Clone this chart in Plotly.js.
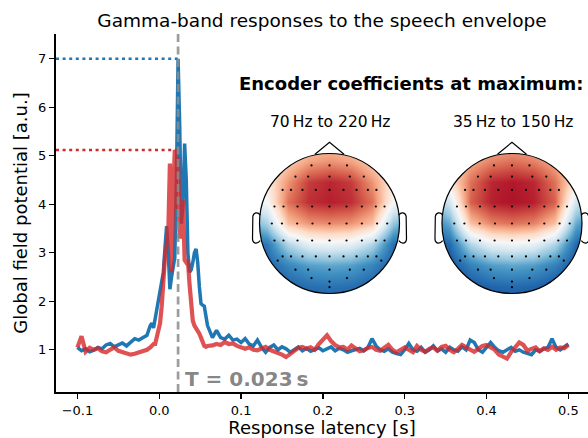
<!DOCTYPE html>
<html>
<head>
<meta charset="utf-8">
<script src="https://cdn.plot.ly/plotly-3.0.1.min.js"></script>
<style>html,body{margin:0;padding:0;background:#fff;}</style>
</head>
<body>
<div id="chart" style="width:588px;height:438px;"></div>
<script>
// ---------- data ----------
const latency = [
 -0.1,-0.095,-0.09,-0.085,-0.08,-0.075,-0.07,-0.065,-0.06,-0.055,-0.05,-0.045,-0.04,-0.035,-0.03,-0.025,-0.02,-0.015,
 -0.011,-0.009,-0.007,-0.005,-0.003,-0.001,0.001,0.003,0.005,0.007,0.009,0.011,0.013,0.015,0.017,0.019,0.021,0.023,
 0.025,0.027,0.029,0.031,0.033,0.035,0.037,0.039,0.041,0.043,0.045,0.047,0.049,0.051,0.053,0.055,0.057,0.059,
 0.065,0.07,0.075,0.08,0.085,0.09,0.095,0.1,0.105,0.11,0.115,0.12,0.125,0.13,0.135,0.14,0.145,0.15,0.155,0.16,
 0.165,0.17,0.175,0.18,0.185,0.19,0.195,0.2,0.205,0.21,0.215,0.22,0.225,0.23,0.235,0.24,0.245,0.25,0.255,0.26,
 0.265,0.27,0.275,0.28,0.285,0.29,0.295,0.3,0.305,0.31,0.315,0.32,0.325,0.33,0.335,0.34,0.345,0.35,0.355,0.36,
 0.365,0.37,0.375,0.38,0.385,0.39,0.395,0.4,0.405,0.41,0.415,0.42,0.425,0.43,0.435,0.44,0.445,0.45,0.455,0.46,
 0.465,0.47,0.475,0.48,0.485,0.49,0.495,0.5
];
const gfpHigh = [ // 70 Hz to 220 Hz (blue)
 1.05,0.98,1.02,0.96,0.99,1.05,1.02,1.1,1.13,1.06,1.1,1.14,1.08,1.15,1.23,1.2,1.26,1.3,
 1.5,1.55,1.45,1.65,1.88,2.0,2.2,2.4,2.6,3.1,3.55,3.0,2.25,2.5,2.7,2.9,4.5,7.0,
 5.6,3.6,4.0,5.25,4.5,3.0,2.6,2.65,2.8,3.0,3.08,2.8,2.3,1.95,1.92,1.9,1.7,1.5,
 1.25,1.4,1.25,1.22,1.3,1.2,1.22,1.15,1.23,1.12,1.08,1.2,1.05,0.95,1.05,1.1,1.0,1.06,1.02,0.95,
 1.0,1.06,0.98,1.03,0.97,1.0,1.04,0.98,1.02,1.06,0.98,1.03,1.0,0.95,0.98,1.0,1.03,0.98,1.05,1.23,
 1.08,1.0,0.97,1.02,0.95,0.92,0.9,1.0,1.13,1.0,0.97,1.05,0.95,1.0,1.08,0.98,1.02,0.95,1.05,1.0,
 0.97,1.06,1.0,1.2,1.15,1.0,0.95,1.05,1.15,1.05,0.98,0.95,1.0,1.05,0.97,1.0,0.95,0.92,0.9,1.0,
 0.97,1.02,1.05,1.23,1.05,1.0,1.05,1.12
];
const gfpLow = [ // 35 Hz to 150 Hz (red)
 1.05,1.28,0.96,1.04,1.0,1.03,0.97,0.95,1.0,1.05,0.98,0.95,0.93,0.9,0.92,0.95,0.98,1.0,
 1.05,1.08,1.12,1.12,1.25,1.4,1.55,1.9,2.55,2.9,3.15,3.4,4.84,2.6,4.2,5.12,3.9,4.97,
 3.3,3.4,4.08,2.85,2.8,2.85,2.35,2.0,1.6,1.5,1.45,1.4,1.33,1.25,1.15,1.08,1.06,1.08,
 1.09,1.12,1.1,1.16,1.12,1.13,1.08,1.05,1.02,1.05,1.0,0.99,1.03,1.06,1.0,0.97,0.93,0.9,0.85,0.92,
 0.99,1.04,1.06,1.02,1.05,1.0,1.12,1.2,1.3,1.18,1.1,1.05,1.06,1.0,1.09,1.03,0.97,0.99,1.04,1.06,
 1.0,0.98,1.05,1.1,1.0,0.95,1.0,1.05,1.0,0.95,1.08,1.0,0.96,1.02,1.05,0.98,1.06,1.08,1.0,0.95,
 1.02,1.1,1.05,1.0,0.96,1.02,1.08,1.1,1.05,1.0,0.9,0.85,0.82,0.95,1.05,1.15,1.1,0.98,1.02,1.05,
 0.97,1.03,1.0,1.06,1.0,1.05,1.03,1.1
];
const peakLatency = 0.023;
const xTickVals = [-0.1,0,0.1,0.2,0.3,0.4,0.5];
const xTickText = ['\u22120.1','0.0','0.1','0.2','0.3','0.4','0.5'];
const yTickVals = [1,2,3,4,5,6,7];

// topomap grids (normalised head coordinates, head radius = 1)
const topoX = [-1.2,-0.9,-0.6,-0.3,0,0.3,0.6,0.9,1.2];
const topoY = [-1.2,-0.9,-0.6,-0.3,0,0.3,0.6,0.9,1.2];
const topoHigh = [
 [-0.9,-0.9,-0.88,-0.85,-0.85,-0.85,-0.88,-0.9,-0.9],
 [-0.9,-0.88,-0.82,-0.76,-0.74,-0.76,-0.82,-0.88,-0.9],
 [-0.88,-0.82,-0.66,-0.55,-0.52,-0.55,-0.66,-0.85,-0.88],
 [-0.85,-0.72,-0.3,-0.1,-0.06,-0.1,-0.3,-0.76,-0.88],
 [-0.55,-0.32,0.3,0.45,0.48,0.45,0.3,-0.38,-0.65],
 [-0.1,0.0,0.55,0.74,0.78,0.74,0.55,0.0,-0.2],
 [0.0,0.1,0.45,0.7,0.76,0.7,0.45,0.1,0.0],
 [0.05,0.1,0.25,0.4,0.45,0.4,0.25,0.1,0.05],
 [0.05,0.1,0.15,0.22,0.25,0.22,0.15,0.1,0.05]
];
const topoLow = [
 [-0.95,-0.95,-0.92,-0.9,-0.9,-0.9,-0.92,-0.95,-0.95],
 [-0.95,-0.92,-0.86,-0.8,-0.78,-0.8,-0.86,-0.92,-0.95],
 [-0.92,-0.88,-0.68,-0.56,-0.52,-0.56,-0.68,-0.88,-0.92],
 [-0.9,-0.78,-0.3,-0.08,-0.04,-0.08,-0.3,-0.78,-0.9],
 [-0.75,-0.5,0.3,0.5,0.55,0.5,0.3,-0.5,-0.75],
 [-0.45,-0.18,0.6,0.78,0.82,0.78,0.6,-0.18,-0.45],
 [-0.1,0.12,0.55,0.76,0.8,0.76,0.55,0.12,-0.1],
 [0.1,0.2,0.38,0.5,0.55,0.5,0.38,0.2,0.1],
 [0.1,0.18,0.25,0.3,0.32,0.3,0.25,0.18,0.1]
];
const elecX = [-0.257,0,0.25, -0.486,-0.305,0,0.29,0.49,
 -0.67,-0.55,-0.386,-0.195,0,0.2,0.386,0.548,0.67,
 -0.786,-0.657,-0.457,-0.248,0,0.243,0.462,0.662,0.786,
 -0.824,-0.68,-0.462,-0.243,0,0.243,0.462,0.68,0.824,
 -0.786,-0.657,-0.457,-0.248,0,0.243,0.462,0.662,0.786,
 -0.67,-0.55,-0.386,-0.195,0,0.2,0.386,0.548,0.67,-0.74,0.74,
 -0.486,-0.305,0,0.29,0.49, -0.257,0.25,0,0];
const elecY = [0.83,0.83,0.83, 0.67,0.67,0.67,0.67,0.67,
 0.48,0.48,0.48,0.48,0.48,0.48,0.48,0.48,0.48,
 0.243,0.243,0.243,0.243,0.243,0.243,0.243,0.243,0.243,
 0,0,0,0,0,0,0,0,0,
 -0.243,-0.243,-0.243,-0.243,-0.243,-0.243,-0.243,-0.243,-0.243,
 -0.47,-0.47,-0.47,-0.47,-0.47,-0.47,-0.47,-0.47,-0.47,-0.53,-0.53,
 -0.66,-0.66,-0.66,-0.66,-0.66, -0.78,-0.78,-0.83,-0.91];

// ---------- styling ----------
const FONT = 'DejaVu Sans, sans-serif';
const BLUE = '#1f77b4', RED = 'rgba(214,39,40,0.8)';
const xRange = [-0.1262, 0.524];
const yRange = [0.13, 7.51];
const rdbu = [[0,'#053061'],[0.1,'#2166ac'],[0.2,'#4393c3'],[0.3,'#92c5de'],[0.4,'#d1e5f0'],
  [0.5,'#f7f7f7'],[0.6,'#fddbc7'],[0.7,'#f4a582'],[0.8,'#d6604d'],[0.9,'#b2182b'],[1,'#67001f']];

const peakHigh = Math.max(...gfpHigh);
const peakLow = Math.max(...gfpLow);

const traces = [
  {x: latency, y: gfpHigh, type:'scatter', mode:'lines', line:{color:BLUE, width:3.5}, hoverinfo:'skip'},
  {x: latency, y: gfpLow, type:'scatter', mode:'lines', line:{color:RED, width:4.2}, hoverinfo:'skip'},
  {x: topoX, y: topoY, z: topoHigh, type:'heatmap', xaxis:'x2', yaxis:'y2', colorscale:rdbu,
   zmin:-1, zmax:1, zsmooth:'best', showscale:false, hoverinfo:'skip'},
  {x: topoX, y: topoY, z: topoLow, type:'heatmap', xaxis:'x3', yaxis:'y3', colorscale:rdbu,
   zmin:-1, zmax:1, zsmooth:'best', showscale:false, hoverinfo:'skip'},
  {x: elecX, y: elecY, xaxis:'x2', yaxis:'y2', type:'scatter', mode:'markers',
   marker:{color:'#000', size:2.2}, hoverinfo:'skip'},
  {x: elecX, y: elecY, xaxis:'x3', yaxis:'y3', type:'scatter', mode:'markers',
   marker:{color:'#000', size:2.2}, hoverinfo:'skip'}
];

const k = 0.5523;
const circ = `M 1 0 C 1 ${k}, ${k} 1, 0 1 C ${-k} 1, -1 ${k}, -1 0 C -1 ${-k}, ${-k} -1, 0 -1 C ${k} -1, 1 ${-k}, 1 0 Z`;
const mask = `M -1.39 -1.39 L 1.39 -1.39 L 1.39 1.39 L -1.39 1.39 Z ` + circ;
const nose = 'M -0.207 0.99 L 0 1.16 L 0.207 0.99';
const earL = 'M -0.99 0.12 C -1.02 0.165, -1.085 0.165, -1.095 0.1 L -1.1 -0.22 C -1.095 -0.295, -1.03 -0.295, -0.99 -0.245';
const earR = 'M 0.99 0.12 C 1.02 0.165, 1.085 0.165, 1.095 0.1 L 1.1 -0.22 C 1.095 -0.295, 1.03 -0.295, 0.99 -0.245';

function headShapes(xr, yr) {
  return [
    {type:'path', xref:xr, yref:yr, path:mask, fillcolor:'#fff', fillrule:'evenodd', line:{width:0}, layer:'above'},
    {type:'path', xref:xr, yref:yr, path:circ, line:{color:'#000', width:1.2}, layer:'above'},
    {type:'path', xref:xr, yref:yr, path:nose, line:{color:'#000', width:1.2}, layer:'above'},
    {type:'path', xref:xr, yref:yr, path:earL, line:{color:'#000', width:1.2}, layer:'above'},
    {type:'path', xref:xr, yref:yr, path:earR, line:{color:'#000', width:1.2}, layer:'above'}
  ];
}

const shapes = [
  {type:'line', xref:'x', yref:'y', x0:xRange[0], x1:peakLatency, y0:peakHigh, y1:peakHigh,
   line:{color:BLUE, width:2.6, dash:'3px,3.6px'}, layer:'above'},
  {type:'line', xref:'x', yref:'y', x0:xRange[0], x1:peakLatency, y0:peakLow, y1:peakLow,
   line:{color:'#d62728', width:2.6, dash:'3px,3.6px'}, layer:'above'},
  {type:'line', xref:'x', yref:'paper', x0:peakLatency, x1:peakLatency, y0:0, y1:1,
   line:{color:'rgba(140,140,140,0.85)', width:2.7, dash:'8px,4.5px'}, layer:'above'}
].concat(headShapes('x2','y2'), headShapes('x3','y3'));

const layout = {
  width:588, height:438,
  margin:{l:56, r:0, t:34, b:46},
  paper_bgcolor:'#fff', plot_bgcolor:'rgba(0,0,0,0)',
  showlegend:false,
  font:{family:FONT, color:'#000', size:13},
  title:{text:'Gamma-band responses to the speech envelope', font:{family:FONT, size:18.5, color:'#000'},
         x:0.5, xref:'paper', y:1-21/438, yref:'container', yanchor:'middle'},
  xaxis:{range:xRange, showline:true, linecolor:'#000', linewidth:2, ticks:'outside', ticklen:5,
         tickwidth:1.4, tickcolor:'#000', showgrid:false, zeroline:false, tickvals:xTickVals, ticktext:xTickText,
         tickfont:{family:FONT, size:13}, automargin:false,
         title:{text:'Response latency [s]', font:{family:FONT, size:18}, standoff:6}},
  yaxis:{range:yRange, showline:true, linecolor:'#000', linewidth:2, ticks:'outside', ticklen:5,
         tickwidth:1.4, tickcolor:'#000', showgrid:false, zeroline:false, tickvals:yTickVals,
         tickfont:{family:FONT, size:13}, automargin:false,
         title:{text:'Global field potential [a.u.]', font:{family:FONT, size:18}, standoff:6}},
  xaxis2:{domain:[0.3233,0.7049], range:[-1.45,1.45], visible:false, fixedrange:true},
  yaxis2:{domain:[0.1872,0.7542], range:[-1.45,1.45], visible:false, fixedrange:true},
  xaxis3:{domain:[0.6663,1.0], range:[-1.45,1.086], visible:false, fixedrange:true},
  yaxis3:{domain:[0.1872,0.7542], range:[-1.45,1.45], visible:false, fixedrange:true},
  shapes: shapes,
  annotations:[
    {text:'T = 0.023\u2009s', xref:'x', yref:'y', x:peakLatency+0.006, y:0.4, xanchor:'left', yanchor:'middle',
     showarrow:false, font:{family:FONT, size:20, color:'rgba(128,128,128,0.95)', weight:'bold'}},
    {text:'Encoder coefficients at maximum:', xref:'paper', yref:'paper', x:(237-56)/532, y:(392-83)/358,
     xanchor:'left', yanchor:'middle', showarrow:false, font:{family:FONT, size:18, color:'#000', weight:'bold'}},
    {text:'70\u2009Hz to 220\u2009Hz', xref:'paper', yref:'paper', x:(330-56)/532, y:(392-122)/358,
     xanchor:'center', yanchor:'middle', showarrow:false, font:{family:FONT, size:15.5, color:'#000'}},
    {text:'35\u2009Hz to 150\u2009Hz', xref:'paper', yref:'paper', x:(513-56)/532, y:(392-122)/358,
     xanchor:'center', yanchor:'middle', showarrow:false, font:{family:FONT, size:15.5, color:'#000'}}
  ]
};

Plotly.newPlot('chart', traces, layout, {staticPlot:true, displayModeBar:false});
</script>
</body>
</html>
